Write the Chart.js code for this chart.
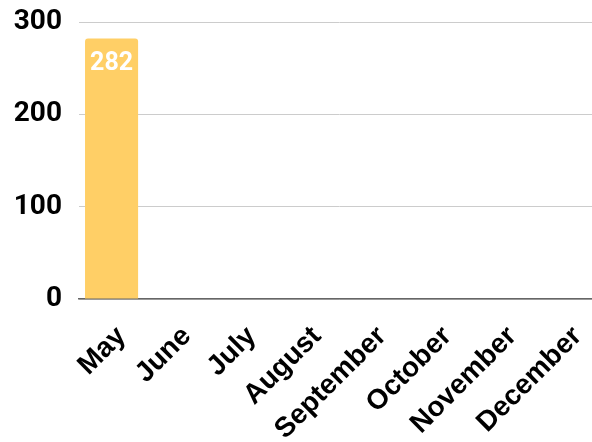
<!DOCTYPE html>
<html>
<head>
<meta charset="utf-8">
<script src="https://cdn.jsdelivr.net/npm/chart.js@4"></script>
<style>
  html, body { margin: 0; padding: 0; background: #fff; overflow: hidden; }
  #wrap { width: 592px; height: 442px; overflow: hidden; }
</style>
</head>
<body>
<!-- canvas is a bit wider than the window: the plot runs past the right edge like the original -->
<div id="wrap"><canvas id="chart" width="600" height="442"></canvas></div>
<script>
// months on the x axis
const months = ['May', 'June', 'July', 'August', 'September', 'October', 'November', 'December'];
// one value per month, only May has data
const counts = [282, 0, 0, 0, 0, 0, 0, 0];
// y axis ticks
const yTicks = [0, 100, 200, 300];

// small plugin to write the value inside the top of each bar
const barValueLabels = {
  id: 'barValueLabels',
  afterDatasetsDraw(chart) {
    const ctx = chart.ctx;
    const meta = chart.getDatasetMeta(0);
    ctx.save();
    ctx.fillStyle = '#ffffff';
    ctx.font = 'bold 25px Roboto';
    ctx.textAlign = 'center';
    ctx.textBaseline = 'middle';
    meta.data.forEach((bar, i) => {
      if (!counts[i]) return;
      ctx.fillText(String(counts[i]), bar.x, bar.y + 25);
    });
    ctx.restore();
  }
};

new Chart(document.getElementById('chart'), {
  type: 'bar',
  data: {
    labels: months,
    datasets: [{
      data: counts,
      backgroundColor: '#FFCF66',
      borderRadius: { topLeft: 3, topRight: 3 },
      borderSkipped: 'bottom',
      categoryPercentage: 0.815,
      barPercentage: 1
    }]
  },
  options: {
    responsive: false,
    animation: false,
    layout: { padding: 0 },
    plugins: {
      legend: { display: false },
      tooltip: { enabled: false }
    },
    scales: {
      x: {
        grid: { display: false, drawTicks: false },
        border: { color: '#666666', width: 1.5 },
        ticks: {
          color: '#000000',
          font: { family: '"Liberation Sans", Arial, sans-serif', weight: 'bold', size: 28 },
          minRotation: 45,
          maxRotation: 45,
          labelOffset: 10,
          padding: 21
        },
        afterFit(axis) {
          axis.height = 143;
          axis.paddingLeft = 0;
          axis.paddingRight = 0;
        }
      },
      y: {
        min: 0,
        max: 300,
        afterBuildTicks(axis) {
          axis.ticks = yTicks.map(v => ({ value: v }));
        },
        grid: { color: '#cccccc', drawTicks: false },
        border: { display: false },
        ticks: {
          color: '#000000',
          font: { family: 'Roboto', weight: 'bold', size: 28 },
          padding: 17
        },
        afterFit(axis) {
          axis.width = 79;
          axis.paddingTop = 22;
          axis.paddingBottom = 0;
        }
      }
    }
  },
  plugins: [barValueLabels]
});
</script>
</body>
</html>
